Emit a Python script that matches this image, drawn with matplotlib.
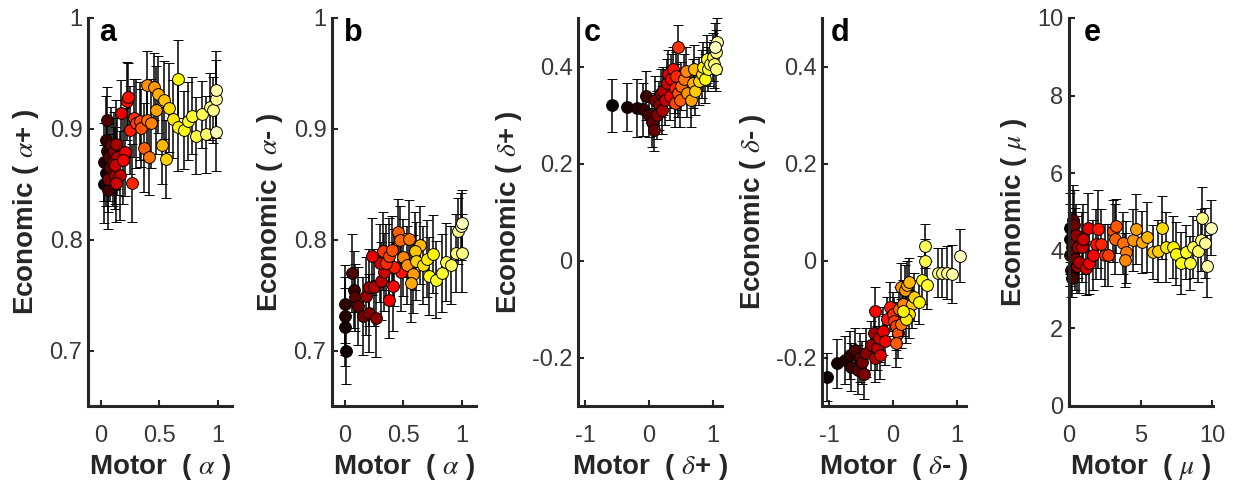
import numpy as np
import matplotlib
matplotlib.use("Agg")
import matplotlib.pyplot as plt

plt.rcParams["font.family"] = ["Liberation Sans", "DejaVu Sans"]
plt.rcParams["mathtext.fontset"] = "stix"

# panel a: Motor alpha vs Economic alpha+
a_x = [0.03, 0.04, 0.03, 0.05, 0.04, 0.06, 0.05, 0.07, 0.08, 0.09, 0.06, 0.10, 0.11, 0.12, 0.13,
       0.14, 0.16, 0.12, 0.13, 0.17, 0.21, 0.19, 0.22, 0.23, 0.25, 0.27, 0.28, 0.30,
       0.33, 0.34, 0.37, 0.39, 0.41, 0.43, 0.39, 0.45,
       0.47, 0.49, 0.52, 0.54, 0.56, 0.58,
       0.62, 0.655, 0.66, 0.71, 0.74, 0.78, 0.81, 0.86, 0.90,
       0.93, 0.96, 0.98, 0.98, 0.98]
a_y = [0.850, 0.860, 0.870, 0.880, 0.890, 0.845, 0.908, 0.875, 0.865, 0.885, 0.855, 0.870, 0.880, 0.858, 0.886,
       0.875, 0.858, 0.867, 0.851, 0.914, 0.879, 0.872, 0.925, 0.929, 0.899, 0.851, 0.910, 0.905,
       0.907, 0.901, 0.883, 0.908, 0.875, 0.905, 0.940, 0.938,
       0.917, 0.931, 0.885, 0.926, 0.873, 0.919,
       0.909, 0.902, 0.945, 0.899, 0.907, 0.912, 0.894, 0.913, 0.895,
       0.920, 0.917, 0.927, 0.935, 0.897]
a_err = [0.035, 0.030, 0.035, 0.030, 0.040, 0.035, 0.030, 0.030, 0.030, 0.035, 0.030, 0.040, 0.035, 0.030, 0.040,
         0.035, 0.040, 0.035, 0.035, 0.030, 0.040, 0.040, 0.035, 0.030, 0.040, 0.035, 0.035, 0.040,
         0.035, 0.035, 0.040, 0.035, 0.035, 0.040, 0.030, 0.030,
         0.040, 0.035, 0.035, 0.035, 0.035, 0.040,
         0.035, 0.040, 0.035, 0.035, 0.035, 0.035, 0.035, 0.030, 0.035,
         0.030, 0.030, 0.035, 0.035, 0.035]

# panel b: Motor alpha vs Economic alpha-
b_x = [0.01, 0.0, 0.0, 0.0, 0.075, 0.065, 0.09, 0.11, 0.155, 0.21, 0.27,
       0.18, 0.205, 0.245, 0.31, 0.33, 0.30, 0.235,
       0.375, 0.41, 0.48, 0.42, 0.35, 0.325, 0.38, 0.40,
       0.45, 0.47, 0.545,
       0.50, 0.53, 0.58, 0.565, 0.64, 0.60, 0.61, 0.67, 0.70, 0.75, 0.72, 0.78, 0.83,
       0.86, 0.91, 0.95, 1.0, 0.97, 0.99, 1.0]
b_y = [0.700, 0.721, 0.731, 0.742, 0.755, 0.770, 0.748, 0.740, 0.731, 0.734, 0.729,
       0.749, 0.757, 0.757, 0.763, 0.771, 0.779, 0.785,
       0.746, 0.758, 0.771, 0.775, 0.779, 0.790, 0.785, 0.791,
       0.807, 0.800, 0.801,
       0.784, 0.777, 0.769, 0.761, 0.795, 0.790, 0.781, 0.777, 0.783, 0.787, 0.767, 0.764, 0.770,
       0.780, 0.777, 0.788, 0.788, 0.808, 0.812, 0.815]
b_err = [0.030, 0.035, 0.035, 0.035, 0.035, 0.035, 0.030, 0.035, 0.035, 0.035, 0.035,
         0.035, 0.035, 0.035, 0.035, 0.035, 0.035, 0.035,
         0.035, 0.040, 0.035, 0.035, 0.035, 0.035, 0.035, 0.030,
         0.030, 0.030, 0.035,
         0.035, 0.035, 0.035, 0.035, 0.035, 0.035, 0.035, 0.035, 0.035, 0.035, 0.035, 0.035, 0.035,
         0.035, 0.035, 0.035, 0.035, 0.030, 0.030, 0.030]

# panel c: Motor delta+ vs Economic delta+
c_x = [-0.58, -0.35, -0.19, -0.10, -0.05, 0.0, 0.05, 0.08, 0.10, 0.12, 0.15, 0.18, 0.20,
       0.22, 0.25, 0.28, 0.30, 0.32, 0.35, 0.38, 0.40, 0.42, 0.46,
       0.40, 0.45, 0.48, 0.50, 0.55, 0.58, 0.60, 0.65, 0.68, 0.70, 0.72,
       0.78, 0.82, 0.85, 0.88, 0.90, 0.92, 0.95,
       1.00, 1.02, 1.04, 1.05, 1.06, 1.03]
c_y = [0.320, 0.316, 0.315, 0.312, 0.340, 0.300, 0.285, 0.270, 0.330, 0.300, 0.320, 0.345, 0.310,
       0.350, 0.330, 0.365, 0.385, 0.340, 0.375, 0.395, 0.355, 0.380, 0.440,
       0.325, 0.345, 0.330, 0.360, 0.375, 0.390, 0.345, 0.330, 0.365, 0.395, 0.350,
       0.370, 0.385, 0.400, 0.375, 0.415, 0.395, 0.405,
       0.420, 0.405, 0.395, 0.430, 0.450, 0.440]
c_err = [0.055, 0.050, 0.060, 0.055, 0.050, 0.045, 0.050, 0.045, 0.050, 0.050, 0.050, 0.050, 0.050,
         0.050, 0.050, 0.050, 0.050, 0.050, 0.050, 0.045, 0.050, 0.050, 0.045,
         0.050, 0.050, 0.055, 0.050, 0.050, 0.050, 0.050, 0.055, 0.050, 0.050, 0.050,
         0.050, 0.050, 0.050, 0.050, 0.050, 0.045, 0.045,
         0.050, 0.050, 0.045, 0.045, 0.050, 0.050]

# panel d: Motor delta- vs Economic delta-
d_x = [-1.03, -0.87, -0.75, -0.68, -0.65, -0.60, -0.55, -0.52, -0.48, -0.45, -0.42,
       -0.35, -0.30, -0.28, -0.25, -0.22, -0.20, -0.15, -0.12, -0.28, -0.10,
       -0.05, 0.0, 0.02, 0.05, 0.08, 0.05, 0.10, 0.12, 0.15,
       0.12, 0.18, 0.22, 0.25, 0.30, 0.32, 0.25, 0.20, 0.15, 0.40, 0.45, 0.53, 0.50, 0.50,
       0.70, 0.77, 0.84, 0.92, 1.05]
d_y = [-0.240, -0.212, -0.205, -0.195, -0.220, -0.185, -0.225, -0.200, -0.210, -0.235, -0.190,
       -0.175, -0.150, -0.200, -0.180, -0.160, -0.195, -0.145, -0.165, -0.105, -0.120,
       -0.095, -0.110, -0.125, -0.135, -0.150, -0.170, -0.100, -0.130, -0.090,
       -0.055, -0.060, -0.050, -0.045, -0.090, -0.075, -0.110, -0.120, -0.105, -0.085, -0.040, -0.050, 0.0, 0.030,
       -0.025, -0.025, -0.025, -0.028, 0.010]
d_err = [0.050, 0.050, 0.050, 0.050, 0.050, 0.045, 0.050, 0.050, 0.045, 0.050, 0.050,
         0.050, 0.050, 0.050, 0.045, 0.050, 0.050, 0.050, 0.050, 0.050, 0.045,
         0.050, 0.045, 0.050, 0.050, 0.050, 0.050, 0.045, 0.050, 0.050,
         0.050, 0.050, 0.050, 0.050, 0.050, 0.050, 0.050, 0.050, 0.050, 0.045, 0.050, 0.050, 0.045, 0.045,
         0.050, 0.050, 0.055, 0.060, 0.055]

# panel e: Motor mu vs Economic mu
e_x = [0.05, 0.10, 0.10, 0.15, 0.20, 0.20, 0.25, 0.30, 0.35, 0.40, 0.45, 0.50, 0.55, 0.60,
       0.70, 0.94, 1.00, 1.20, 1.30, 1.40, 1.65, 1.90, 2.00, 2.20,
       2.50, 2.70, 3.06, 3.30, 3.20, 3.76, 4.00, 3.90, 4.47, 4.70, 5.06, 5.46,
       5.84, 6.20, 6.50, 6.80, 7.25, 7.50, 7.80, 8.20, 8.47, 8.66, 8.99, 9.18,
       9.30, 9.50, 9.60, 9.90]
e_y = [4.60, 4.30, 3.90, 3.50, 4.10, 3.30, 4.80, 4.00, 4.67, 3.80, 4.20, 4.40, 3.60, 4.10,
       3.72, 4.10, 4.30, 3.56, 4.60, 3.68, 3.90, 4.18, 4.56, 4.18,
       3.90, 3.90, 4.50, 4.64, 4.30, 4.20, 3.97, 3.77, 4.27, 4.56, 4.23, 4.35,
       3.97, 4.00, 4.60, 4.10, 4.10, 3.93, 3.68, 3.97, 3.68, 4.10, 4.00, 4.27,
       4.85, 4.20, 3.60, 4.60]
e_err = [0.9, 0.9, 0.8, 0.7, 0.9, 0.5, 0.9, 0.8, 0.9, 0.8, 0.9, 0.8, 0.7, 0.8,
         0.8, 0.9, 0.9, 0.7, 0.9, 0.8, 0.9, 0.9, 1.0, 0.9,
         0.8, 0.8, 0.8, 0.7, 0.9, 0.8, 0.8, 0.7, 0.8, 0.9, 0.8, 0.9,
         0.7, 0.8, 0.8, 0.9, 0.8, 0.8, 0.8, 0.7, 0.7, 0.8, 0.8, 0.8,
         0.8, 0.9, 0.8, 0.7]

panels = [
    ("a", a_x, a_y, a_err, (-0.11, 1.12), (0.65, 1.0), [0, 0.5, 1], ["0", "0.5", "1"],
     [0.7, 0.8, 0.9, 1.0], ["0.7", "0.8", "0.9", "1"],
     r"Motor  ( $\alpha$ )", r"Economic ( $\alpha$+ )"),
    ("b", b_x, b_y, b_err, (-0.11, 1.12), (0.65, 1.0), [0, 0.5, 1], ["0", "0.5", "1"],
     [0.7, 0.8, 0.9, 1.0], ["0.7", "0.8", "0.9", "1"],
     r"Motor  ( $\alpha$ )", r"Economic ( $\alpha$- )"),
    ("c", c_x, c_y, c_err, (-1.11, 1.14), (-0.3, 0.5), [-1, 0, 1], ["-1", "0", "1"],
     [-0.2, 0, 0.2, 0.4], ["-0.2", "0", "0.2", "0.4"],
     r"Motor  ( $\delta$+ )", r"Economic ( $\delta$+ )"),
    ("d", d_x, d_y, d_err, (-1.11, 1.14), (-0.3, 0.5), [-1, 0, 1], ["-1", "0", "1"],
     [-0.2, 0, 0.2, 0.4], ["-0.2", "0", "0.2", "0.4"],
     r"Motor  ( $\delta$- )", r"Economic ( $\delta$- )"),
    ("e", e_x, e_y, e_err, (0, 10.05), (0, 10), [0, 5, 10], ["0", "5", "10"],
     [0, 2, 4, 6, 8, 10], ["0", "2", "4", "6", "8", "10"],
     r"Motor  ( $\mu$ )", r"Economic ( $\mu$ )"),
]

W, H = 1238, 482
fig = plt.figure(figsize=(W / 100, H / 100), dpi=100)
lefts = [88, 332, 578, 822, 1069]
letter_x = [0.08, 0.08, 0.04, 0.06, 0.1]
axc = "#262626"

for left, lx, (letter, xs, ys, errs, xl, yl, xt, xtl, yt, ytl, xlab, ylab) in zip(lefts, letter_x, panels):
    ax = fig.add_axes([left / W, 76 / H, 144 / W, 388 / H])
    n = len(xs)
    cols = plt.cm.hot(np.linspace(0.0, 0.93, n))
    for i in range(n):
        ax.errorbar(xs[i], ys[i], yerr=errs[i], fmt="o", color="black", ecolor="black",
                    elinewidth=1.1, capsize=3.6, capthick=1.1, ms=8.5,
                    mfc=cols[i], mec="black", mew=0.7, clip_on=False, zorder=2 + i * 0.01)
    ax.set_xlim(*xl)
    ax.set_ylim(*yl)
    ax.set_xticks(xt)
    ax.set_xticklabels(xtl)
    ax.set_yticks(yt)
    ax.set_yticklabels(ytl)
    for s in ["top", "right"]:
        ax.spines[s].set_visible(False)
    for s in ["left", "bottom"]:
        ax.spines[s].set_linewidth(2.2)
        ax.spines[s].set_color(axc)
    ax.tick_params(direction="in", length=4, width=1.5, colors=axc, labelsize=17,
                   labelcolor="#383838")
    ax.tick_params(axis="x", pad=14)
    ax.tick_params(axis="y", pad=4)
    ax.set_xlabel(xlab, fontsize=20, fontweight="bold", color=axc, labelpad=3)
    ax.set_ylabel(ylab, fontsize=20, fontweight="bold", color=axc, labelpad=6)
    ax.text(lx, 1.0, letter, transform=ax.transAxes, fontsize=22, fontweight="bold",
            va="top", ha="left", color="black")

fig.savefig("out.png", dpi=100)
